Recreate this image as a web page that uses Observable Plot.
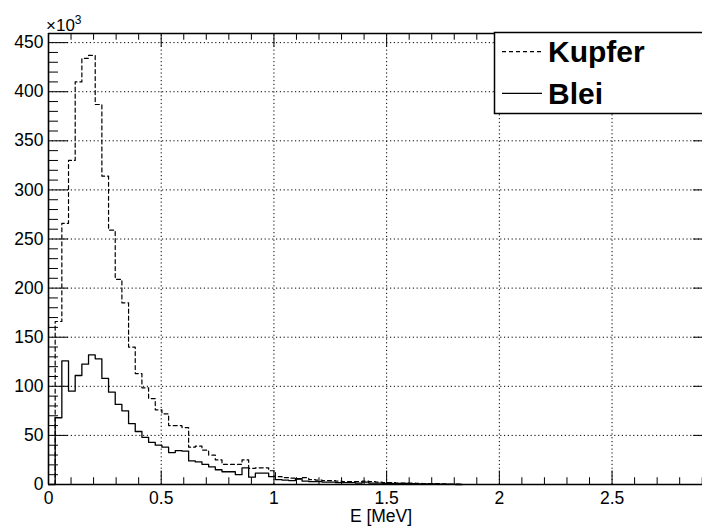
<!DOCTYPE html>
<html>
<head>
<meta charset="utf-8">
<script src="https://cdn.jsdelivr.net/npm/d3@7"></script>
<script src="https://cdn.jsdelivr.net/npm/@observablehq/plot@0.6"></script>
<style>
  html, body { margin: 0; padding: 0; background: #fff; overflow: hidden; }
  #chart { position: relative; width: 702px; height: 526px; overflow: hidden; }
  #chart svg { overflow: hidden; display: block; }
</style>
</head>
<body>
<div id="chart"></div>
<script>
// ---- data (counts in units of 10^3 per bin) ----
const binWidth = 0.0296; // MeV
const kupfer = [0, 166, 266, 330, 410, 434, 437, 387, 314, 259, 209, 185, 140, 113, 98.5, 87.5,
  76, 72, 60, 60, 58, 38, 39, 35, 30, 25, 20.5, 20.5, 20.5, 25, 16.5, 17, 17, 14, 8, 7,
  6.5, 5.5, 7, 5, 4.5, 4, 4, 3.5, 3, 3, 3, 3.5, 3, 2.5, 2, 2, 1.5, 1.5, 1.5, 1.2, 1, 1,
  0.8, 0.6, 0.5, 0.4, 0];
const blei = [0, 68, 126, 95, 111, 122.5, 132, 128, 108, 94, 81.5, 75, 62, 54, 48, 43,
  40, 38, 32.5, 34.5, 34, 24, 23, 20.5, 18, 15, 13, 13, 10, 17, 7.5, 11.5, 11.5, 8, 5, 4.5,
  4, 6, 3.5, 3, 3, 2.5, 2.5, 2, 2, 2, 1.5, 2.5, 1.5, 1.5, 1.2, 1, 1, 1, 0.8, 0.7, 0.6, 0.5,
  0.4, 0.3, 0.2, 0];
const seriesNames = ["Kupfer", "Blei"];
const xTickValues = [0, 0.5, 1, 1.5, 2, 2.5];
const xTickLabels = ["0", "0.5", "1", "1.5", "2", "2.5"];
const yTickValues = [0, 50, 100, 150, 200, 250, 300, 350, 400, 450];
const yTickLabels = ["0", "50", "100", "150", "200", "250", "300", "350", "400", "450"];
const xMinorStep = 0.1;
const yMinorStep = 10;
const xMax = 2.95;
const yMax = 459.3;
const xTitle = "E [MeV]";

// ---- build ----
function steps(values) {
  const pts = values.map((v, i) => ({x: i * binWidth, y: v}));
  pts.push({x: values.length * binWidth, y: values[values.length - 1]});
  return pts;
}
const xMinor = d3.range(0, xMax + 1e-9, xMinorStep).filter(v => !xTickValues.some(t => Math.abs(t - v) < 1e-6));
const yMinor = d3.range(0, yMax, yMinorStep).filter(v => v % 50 !== 0);
const tX = 0.03 * yMax;   // x-axis tick length (fraction of frame)
const tY = 0.03 * xMax;   // y-axis tick length
const tick = {stroke: "black", strokeWidth: 1};
const grid = {stroke: "black", strokeWidth: 1, strokeDasharray: "1.2,2.6"};
const font = "'Liberation Sans', Arial, Helvetica, sans-serif";

const plot = Plot.plot({
  width: 702,
  height: 526,
  marginLeft: 48,
  marginRight: 0,
  marginTop: 33,
  marginBottom: 42,
  x: {domain: [0, xMax], range: [48, 713], axis: null},
  y: {domain: [0, yMax], axis: null},
  style: {fontFamily: font, fontSize: "17.5px", background: "white", color: "black"},
  marks: [
    // grid
    Plot.ruleX(xTickValues.filter(d => d > 0), {x: d => d, y1: 0, y2: yMax, ...grid}),
    Plot.ruleY(yTickValues.filter(d => d > 0), {y: d => d, x1: 0, x2: xMax, ...grid}),
    // histograms
    Plot.line(steps(kupfer), {x: "x", y: "y", curve: "step-after", stroke: "black", strokeWidth: 1.2, strokeDasharray: "4,3"}),
    Plot.line(steps(blei), {x: "x", y: "y", curve: "step-after", stroke: "black", strokeWidth: 1.3}),
    // x ticks (bottom and top, inward)
    Plot.ruleX(xTickValues, {x: d => d, y1: 0, y2: tX, ...tick}),
    Plot.ruleX(xMinor, {x: d => d, y1: 0, y2: tX / 2, ...tick}),
    Plot.ruleX(xTickValues, {x: d => d, y1: yMax - tX, y2: yMax, ...tick}),
    Plot.ruleX(xMinor, {x: d => d, y1: yMax - tX / 2, y2: yMax, ...tick}),
    // y ticks (left and right, inward)
    Plot.ruleY(yTickValues, {y: d => d, x1: 0, x2: tY, ...tick}),
    Plot.ruleY(yMinor, {y: d => d, x1: 0, x2: tY / 2, ...tick}),
    Plot.ruleY(yTickValues, {y: d => d, x1: xMax - tY, x2: xMax, ...tick}),
    Plot.ruleY(yMinor, {y: d => d, x1: xMax - tY / 2, x2: xMax, ...tick}),
    // frame
    Plot.ruleY([0, yMax], {y: d => d, x1: 0, x2: xMax, stroke: "black", strokeWidth: 1.6}),
    Plot.ruleX([0, xMax], {x: d => d, y1: 0, y2: yMax, stroke: "black", strokeWidth: 1.6}),
    // tick labels
    Plot.text(yTickValues, {x: () => 0, y: d => d, text: (d, i) => yTickLabels[i], textAnchor: "end", dx: -5, fill: "black"}),
    Plot.text(xTickValues, {x: d => d, y: () => 0, text: (d, i) => xTickLabels[i], lineAnchor: "top", dy: 7, fill: "black"})
  ]
});
document.getElementById("chart").appendChild(plot);

// ---- annotations: exponent, axis title, legend ----
const svg = d3.select(plot);
const ex = svg.append("text").attr("x", 46).attr("y", 31).attr("text-anchor", "start")
  .attr("font-family", font).attr("font-size", 17).attr("fill", "black");
ex.append("tspan").text("×10");
ex.append("tspan").attr("font-size", 12).attr("dy", -7).text("3");

svg.append("text").attr("x", 381).attr("y", 522).attr("text-anchor", "middle")
  .attr("font-family", font).attr("font-size", 17.5).attr("fill", "black").text(xTitle);

const lg = svg.append("g");
lg.append("rect").attr("x", 494.5).attr("y", 32.5).attr("width", 240).attr("height", 81)
  .attr("fill", "white").attr("stroke", "black").attr("stroke-width", 1.5);
const rows = [
  {name: seriesNames[0], y: 51.7, dash: "4,3", base: 61.7},
  {name: seriesNames[1], y: 93.3, dash: null, base: 104}
];
rows.forEach(r => {
  const ln = lg.append("line").attr("x1", 502).attr("x2", 542).attr("y1", r.y).attr("y2", r.y)
    .attr("stroke", "black").attr("stroke-width", 1.2);
  if (r.dash) ln.attr("stroke-dasharray", r.dash);
  lg.append("text").attr("x", 548).attr("y", r.base).attr("text-anchor", "start")
    .attr("font-family", font).attr("font-size", 30).attr("font-weight", "bold")
    .attr("fill", "black").text(r.name);
});
</script>
</body>
</html>
